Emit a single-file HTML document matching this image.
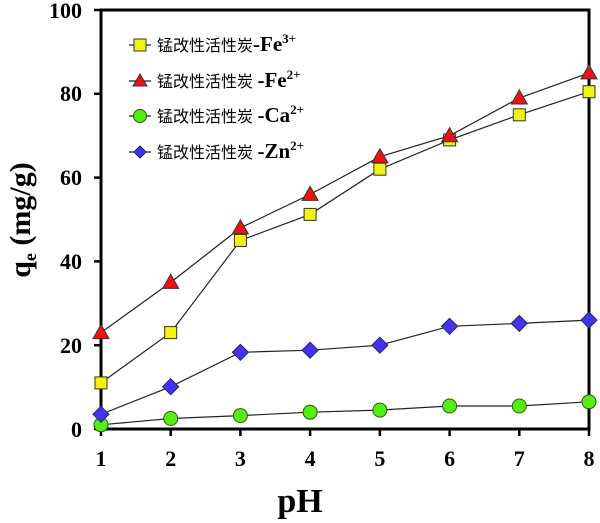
<!DOCTYPE html>
<html><head><meta charset="utf-8"><style>
html,body{margin:0;padding:0;background:#fff;}
svg{display:block;}
.t{font-family:"Liberation Serif",serif;font-weight:bold;}
.c{font-family:"Liberation Sans","Noto Sans CJK SC",sans-serif;font-size:16px;}
</style></head><body>
<svg width="600" height="523" viewBox="0 0 600 523" xmlns="http://www.w3.org/2000/svg">
<rect x="101" y="10" width="488" height="419" fill="none" stroke="#000" stroke-width="3"/>
<g stroke="#000" stroke-width="2.5">
<line x1="94" y1="10" x2="101" y2="10"/><line x1="94" y1="93.8" x2="101" y2="93.8"/><line x1="94" y1="177.6" x2="101" y2="177.6"/><line x1="94" y1="261.4" x2="101" y2="261.4"/><line x1="94" y1="345.2" x2="101" y2="345.2"/><line x1="94" y1="429" x2="101" y2="429"/>
<line x1="101" y1="429" x2="101" y2="436"/><line x1="170.7" y1="429" x2="170.7" y2="436"/><line x1="240.4" y1="429" x2="240.4" y2="436"/><line x1="310.1" y1="429" x2="310.1" y2="436"/><line x1="379.9" y1="429" x2="379.9" y2="436"/><line x1="449.6" y1="429" x2="449.6" y2="436"/><line x1="519.3" y1="429" x2="519.3" y2="436"/><line x1="589" y1="429" x2="589" y2="436"/>
</g>
<g class="t" font-size="22" text-anchor="end">
<text x="82" y="18">100</text><text x="82" y="101">80</text><text x="82" y="185">60</text><text x="82" y="269">40</text><text x="82" y="353">20</text><text x="82" y="437">0</text>
</g>
<g class="t" font-size="22" text-anchor="middle">
<text x="101" y="466">1</text><text x="170.7" y="466">2</text><text x="240.4" y="466">3</text><text x="310.1" y="466">4</text><text x="379.9" y="466">5</text><text x="449.6" y="466">6</text><text x="519.3" y="466">7</text><text x="589" y="466">8</text>
</g>
<text class="t" x="300" y="512" font-size="34" text-anchor="middle">pH</text>
<text class="t" font-size="30" transform="translate(30,220) rotate(-90)" text-anchor="middle">q<tspan font-size="18" dy="6">e</tspan><tspan dy="-6"> (mg/g)</tspan></text>
<g fill="none" stroke="#222" stroke-width="1.2">
<polyline points="101,382.9 170.7,332.6 240.4,240.5 310.1,214.4 379.9,169.2 449.6,139.9 519.3,114.8 589,91.7"/>
<polyline points="101,332.6 170.7,282.4 240.4,227.9 310.1,194.4 379.9,156.7 449.6,135.7 519.3,98 589,72.9"/>
<polyline points="101,424.8 170.7,418.5 240.4,415.6 310.1,412.2 379.9,410.1 449.6,406 519.3,406 589,401.8"/>
<polyline points="101,414.3 170.7,386.7 240.4,352.3 310.1,350.2 379.9,345.2 449.6,326.3 519.3,323.4 589,320.1"/>
</g>
<g fill="#f2f20a" stroke="#333" stroke-width="1">
<rect x="95" y="376.9" width="12" height="12"/><rect x="164.7" y="326.6" width="12" height="12"/><rect x="234.4" y="234.5" width="12" height="12"/><rect x="304.1" y="208.4" width="12" height="12"/><rect x="373.9" y="163.2" width="12" height="12"/><rect x="443.6" y="133.9" width="12" height="12"/><rect x="513.3" y="108.8" width="12" height="12"/><rect x="583" y="85.7" width="12" height="12"/>
</g>
<g fill="#ee1111" stroke="#333" stroke-width="1">
<polygon points="101,324.6 93,338.6 109,338.6"/><polygon points="170.7,274.4 162.7,288.4 178.7,288.4"/><polygon points="240.4,219.9 232.4,233.9 248.4,233.9"/><polygon points="310.1,186.4 302.1,200.4 318.1,200.4"/><polygon points="379.9,148.7 371.9,162.7 387.9,162.7"/><polygon points="449.6,127.7 441.6,141.7 457.6,141.7"/><polygon points="519.3,90 511.3,104 527.3,104"/><polygon points="589,64.9 581,78.9 597,78.9"/>
</g>
<g fill="#55ee11" stroke="#2a5a10" stroke-width="1">
<circle cx="101" cy="424.8" r="7"/><circle cx="170.7" cy="418.5" r="7"/><circle cx="240.4" cy="415.6" r="7"/><circle cx="310.1" cy="412.2" r="7"/><circle cx="379.9" cy="410.1" r="7"/><circle cx="449.6" cy="406" r="7"/><circle cx="519.3" cy="406" r="7"/><circle cx="589" cy="401.8" r="7"/>
</g>
<g fill="#4433ee" stroke="#222266" stroke-width="1">
<polygon points="101,406.3 109,414.3 101,422.3 93,414.3"/><polygon points="170.7,378.7 178.7,386.7 170.7,394.7 162.7,386.7"/><polygon points="240.4,344.3 248.4,352.3 240.4,360.3 232.4,352.3"/><polygon points="310.1,342.2 318.1,350.2 310.1,358.2 302.1,350.2"/><polygon points="379.9,337.2 387.9,345.2 379.9,353.2 371.9,345.2"/><polygon points="449.6,318.3 457.6,326.3 449.6,334.3 441.6,326.3"/><polygon points="519.3,315.4 527.3,323.4 519.3,331.4 511.3,323.4"/><polygon points="589,312.1 597,320.1 589,328.1 581,320.1"/>
</g>
<g stroke="#222" stroke-width="1.2">
<line x1="129" y1="45" x2="151" y2="45"/><line x1="129" y1="81" x2="151" y2="81"/><line x1="129" y1="116" x2="151" y2="116"/><line x1="129" y1="152" x2="151" y2="152"/>
</g>
<rect x="134" y="39" width="12" height="12" fill="#f2f20a" stroke="#333"/>
<polygon points="140,74 133,86 147,86" fill="#ee1111" stroke="#333"/>
<circle cx="140" cy="116" r="6.5" fill="#55ee11" stroke="#2a5a10"/>
<polygon points="140,146 146,152 140,158 134,152" fill="#4433ee" stroke="#222266"/>
<g class="c">
<text x="157" y="51">锰改性活性炭<tspan class="t" font-size="21">-Fe<tspan font-size="13" dy="-8">3+</tspan></tspan></text>
<text x="157" y="87">锰改性活性炭 <tspan class="t" font-size="21">-Fe<tspan font-size="13" dy="-8">2+</tspan></tspan></text>
<text x="157" y="122">锰改性活性炭 <tspan class="t" font-size="21">-Ca<tspan font-size="13" dy="-8">2+</tspan></tspan></text>
<text x="157" y="158">锰改性活性炭 <tspan class="t" font-size="21">-Zn<tspan font-size="13" dy="-8">2+</tspan></tspan></text>
</g>
</svg>
</body></html>
